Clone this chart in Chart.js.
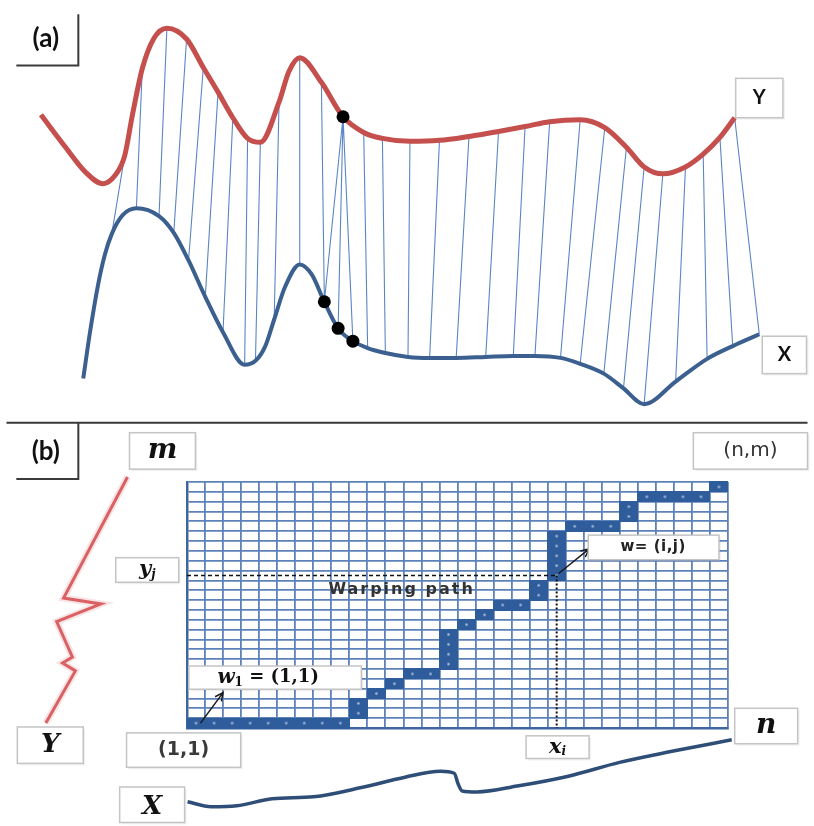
<!DOCTYPE html>
<html>
<head>
<meta charset="utf-8">
<script src="https://cdn.jsdelivr.net/npm/chart.js@4.4.0/dist/chart.umd.min.js"></script>
<style>
  html, body { margin: 0; padding: 0; background: #fff; }
  #wrap { position: relative; width: 814px; height: 826px; overflow: hidden; }
  #fig { position: absolute; left: 0; top: 0; }
  #grid { position: absolute; left: 181px; top: 476px; }
</style>
</head>
<body>
<div id="wrap">
  <canvas id="fig" width="814" height="826"></canvas>
  <canvas id="grid" width="553" height="258"></canvas>
</div>
<script>
// panel (a): series Y (red) and X (blue), [time, depth] samples
var seriesY = [[35,110],[60,143],[80,168],[98,180],[110,172],[120,152],[128,110],[138,63],[150,32],[163,22],
  [183,33],[200,62],[215,87],[230,113],[245,134],[258,138],[277,97],[287,66],[298,52],[320,77],
  [342,112],[363,128],[382,134],[410,137],[440,136],[470,132],[500,127],[527,122],[552,117],[583,115],
  [608,123],[630,143],[648,163],[667,170],[690,163],[708,150],[725,133],[740,113]];
var seriesX = [[78,378],[85,330],[93,283],[100,252],[107,231],[118,212],[132,205],[155,213],[170,230],[185,258],
  [202,295],[220,331],[242,364],[253,360],[263,345],[272,318],[283,285],[298,262],[310,272],[323,300],
  [337,327],[352,340],[367,347],[385,352],[408,356],[430,357],[457,357],[487,356],[515,355],[537,355],
  [563,357],[583,363],[607,373],[627,388],[648,404],[680,381],[712,358],[738,345],[765,333]];
// warping links: [index in Y, index in X]
var links = [[5,4],[7,6],[9,7],[10,8],[11,9],[12,10],[13,11],[14,12],[15,13],[16,15],[18,17],[19,19],
  [20,19],[20,20],[20,21],[21,22],[22,23],[23,24],[24,25],[25,26],[26,27],[27,28],[28,29],[29,30],
  [30,31],[31,32],[32,33],[33,34],[34,35],[35,36],[36,37],[37,38]];
var markedY = [20];
var markedX = [19, 20, 21];

// panel (b): sketches of the two series along the matrix edges
var sketchY = [[123,478],[58,601],[96,607],[51,625],[67,661],[57,667],[70,675],[40,728]];
var sketchX = [[184,808],[208,813],[234,812],[270,805],[312,803],[363,793],[405,783],[441,777],[455,779],
  [459,790],[463,797],[478,798],[519,792],[571,782],[623,768],[675,757],[737,745]];

// panel (b): cost matrix n x m and the warping path cells (i, j)
var nCols = 30;
var mRows = 25;
var pathI = [1,2,3,4,5,6,7,8,9,10,10,11,12,13,14,15,15,15,15,16,17,18,19,20,20,21,21,21,21,21,22,23,24,25,25,26,27,28,29,30];
var pathJ = [1,1,1,1,1,1,1,1,1,2,3,4,5,6,6,7,8,9,10,11,12,13,13,14,15,16,17,18,19,20,21,21,21,22,23,24,24,24,24,25];
var wCell = [21, 16];

function pts(arr) {
  return arr.map(function(p) { return { x: p[0], y: p[1] }; });
}

var linkData = [];
links.forEach(function(l) {
  var a = seriesY[l[0]], b = seriesX[l[1]];
  linkData.push({ x: a[0], y: a[1] }, { x: b[0], y: b[1] }, { x: b[0], y: null });
});
var dots = markedY.map(function(k) { return seriesY[k]; }).concat(markedX.map(function(k) { return seriesX[k]; }));

var serif = '"DejaVu Serif", serif';
var notes = [
  { box: [741,73,789,113], parts: [['Y', 'bold 20px Lato']] },
  { box: [768,335,813,373], parts: [['X', 'bold 20px Lato']] },
  { at: [40,33], parts: [['(a)', 'bold 26px Lato']] },
  { at: [40,452], parts: [['(b)', 'bold 26px Lato']] },
  { box: [125,433,192,470], parts: [['m', 'italic bold 28px ' + serif]] },
  { box: [698,433,814,470], parts: [['(n,m)', '20px "DejaVu Sans"']], color: '#333' },
  { box: [111,560,175,585], parts: [['y', 'italic bold 21px ' + serif], ['j', 'italic bold 12px ' + serif, 5]] },
  { box: [11,732,78,769], parts: [['Y', 'italic bold 26px ' + serif]] },
  { box: [122,738,238,773], parts: [['(1,1)', 'bold 19px "DejaVu Sans"']], color: '#3a3a3a' },
  { box: [528,741,592,764], parts: [['x', 'italic bold 21px ' + serif], ['i', 'italic bold 12px ' + serif, 5]] },
  { box: [740,713,804,749], parts: [['n', 'italic bold 28px ' + serif]] },
  { box: [115,793,181,829], parts: [['X', 'italic bold 26px ' + serif]], ty: 814 }
];

function drawParts(ctx, parts, cx, cy, color, spacing) {
  ctx.letterSpacing = spacing || '0px';
  var total = 0;
  parts.forEach(function(p) { ctx.font = p[1]; total += ctx.measureText(p[0]).width; });
  var x = cx - total / 2;
  ctx.fillStyle = color || '#111';
  ctx.textBaseline = 'middle';
  ctx.textAlign = 'left';
  parts.forEach(function(p) {
    ctx.font = p[1];
    ctx.fillText(p[0], x, cy + (p[2] || 0));
    x += ctx.measureText(p[0]).width;
  });
  ctx.letterSpacing = '0px';
}

function drawBox(ctx, x0, y0, x1, y1) {
  ctx.fillStyle = 'rgba(0,0,0,0.06)';
  ctx.fillRect(x0 + 2, y0 + 2, x1 - x0, y1 - y0);
  ctx.fillStyle = '#fff';
  ctx.fillRect(x0, y0, x1 - x0, y1 - y0);
  ctx.strokeStyle = '#c4c4c4';
  ctx.lineWidth = 1.5;
  ctx.strokeRect(x0, y0, x1 - x0, y1 - y0);
}

function arrow(ctx, x0, y0, x1, y1) {
  var a = Math.atan2(y1 - y0, x1 - x0), L = 9;
  ctx.beginPath();
  ctx.moveTo(x0, y0); ctx.lineTo(x1, y1);
  ctx.moveTo(x1 - L * Math.cos(a - 0.45), y1 - L * Math.sin(a - 0.45));
  ctx.lineTo(x1, y1);
  ctx.lineTo(x1 - L * Math.cos(a + 0.45), y1 - L * Math.sin(a + 0.45));
  ctx.stroke();
}

var figNotes = {
  id: 'figNotes',
  afterDraw: function(chart) {
    var ctx = chart.ctx, xs = chart.scales.x, ys = chart.scales.y;
    var X = function(v) { return xs.getPixelForValue(v); };
    var Y = function(v) { return ys.getPixelForValue(v); };
    ctx.save();
    ctx.strokeStyle = '#3a3a3a';
    ctx.lineWidth = 2;
    ctx.beginPath();
    ctx.moveTo(X(10), Y(60)); ctx.lineTo(X(73), Y(60)); ctx.lineTo(X(73), Y(8));
    ctx.moveTo(X(0), Y(423)); ctx.lineTo(X(814), Y(423));
    ctx.moveTo(X(10), Y(480)); ctx.lineTo(X(73), Y(480)); ctx.lineTo(X(73), Y(423));
    ctx.stroke();
    notes.forEach(function(n) {
      var cx, cy;
      if (n.box) {
        drawBox(ctx, X(n.box[0]), Y(n.box[1]), X(n.box[2]), Y(n.box[3]));
        cx = X((n.box[0] + n.box[2]) / 2);
        cy = Y(n.ty || (n.box[1] + n.box[3]) / 2);
      } else {
        cx = X(n.at[0]); cy = Y(n.at[1]);
      }
      drawParts(ctx, n.parts, cx, cy, n.color);
    });
    ctx.restore();
  }
};

new Chart(document.getElementById('fig'), {
  type: 'line',
  data: {
    datasets: [
      { data: pts(dots), showLine: false, pointRadius: 6.5, pointBackgroundColor: '#000', pointBorderWidth: 0, order: 0 },
      { data: pts(seriesY), borderColor: '#c44f4d', borderWidth: 5, pointRadius: 0, cubicInterpolationMode: 'monotone', order: 1 },
      { data: pts(seriesX), borderColor: '#3b5f8f', borderWidth: 4, pointRadius: 0, cubicInterpolationMode: 'monotone', order: 2 },
      { data: linkData, borderColor: '#5a85c4', borderWidth: 1.1, pointRadius: 0, tension: 0, order: 3 },
      { data: pts(sketchY), borderColor: 'rgba(214,90,92,0.16)', borderWidth: 7, pointRadius: 0, tension: 0, order: 5 },
      { data: pts(sketchY), borderColor: '#da6163', borderWidth: 3, pointRadius: 0, tension: 0, order: 4 },
      { data: pts(sketchX), borderColor: '#2e4e78', borderWidth: 3.5, pointRadius: 0, cubicInterpolationMode: 'monotone', order: 4 }
    ]
  },
  options: {
    responsive: false,
    animation: false,
    events: [],
    layout: { padding: 0 },
    plugins: { legend: { display: false }, tooltip: { enabled: false } },
    scales: {
      x: { type: 'linear', display: false, min: 0, max: 814 },
      y: { type: 'linear', display: false, min: 0, max: 826, reverse: true }
    }
  },
  plugins: [figNotes]
});

// one path cell, drawn by the library as a point style
var cell = document.createElement('canvas');
cell.width = 19; cell.height = 11;
var cc = cell.getContext('2d');
cc.fillStyle = '#2f5c9b';
cc.fillRect(0, 0, 19, 11);
cc.fillStyle = '#a6bddd';
cc.beginPath(); cc.arc(9.5, 5.5, 1.3, 0, Math.PI * 2); cc.fill();

var gridNotes = {
  id: 'gridNotes',
  afterDraw: function(chart) {
    var ctx = chart.ctx, xs = chart.scales.x, ys = chart.scales.y;
    var X = function(v) { return xs.getPixelForValue(v); };
    var Y = function(v) { return ys.getPixelForValue(v); };
    var wx = X(wCell[0] - 0.5), wy = Y(wCell[1] - 0.5);
    ctx.save();
    ctx.strokeStyle = '#111';
    ctx.setLineDash([4, 3]);
    ctx.lineWidth = 1.4;
    ctx.beginPath(); ctx.moveTo(X(0), wy); ctx.lineTo(wx, wy); ctx.stroke();
    ctx.setLineDash([2, 2]);
    ctx.lineWidth = 2;
    ctx.beginPath(); ctx.moveTo(wx, wy); ctx.lineTo(wx, Y(0)); ctx.stroke();
    ctx.setLineDash([]);
    ctx.lineWidth = 1.5;
    ctx.strokeStyle = '#1a1a1a';
    arrow(ctx, X(0.75), Y(0.5), X(2.0), Y(3.6));
    arrow(ctx, wx + 2, wy - 2, X(22.3), Y(18.2));

    drawBox(ctx, X(0.1), Y(6.3), X(9.67), Y(3.94));
    drawParts(ctx, [['w', 'italic bold 20px ' + serif], ['1', 'bold 12px ' + serif, 5], [' = (1,1)', 'bold 18px ' + serif]],
      X(4.5), Y(5.1), '#111');
    drawBox(ctx, X(22.25), Y(19.6), X(29.5), Y(17.1));
    drawParts(ctx, [['w= (i,j)', 'bold 15px "DejaVu Sans"']], X(25.85), Y(18.35), '#222', '0.5px');
    drawParts(ctx, [['Warping path', 'bold 16px "DejaVu Sans"']], X(11.9), Y(14.0), '#333', '2px');
    ctx.restore();
  }
};

new Chart(document.getElementById('grid'), {
  type: 'scatter',
  data: {
    datasets: [{
      data: pathI.map(function(i, k) { return { x: i - 0.5, y: pathJ[k] - 0.5 }; }),
      pointStyle: cell,
      pointRadius: 5,
      clip: false
    }]
  },
  options: {
    responsive: false,
    animation: false,
    events: [],
    layout: { padding: 2 },
    plugins: { legend: { display: false }, tooltip: { enabled: false } },
    scales: {
      x: {
        type: 'linear', min: 0, max: nCols,
        ticks: { stepSize: 1, display: false },
        grid: { color: '#5d82b9', lineWidth: 1.8, drawTicks: false },
        border: { color: '#3f659f', width: 2.5 }
      },
      y: {
        type: 'linear', min: 0, max: mRows,
        ticks: { stepSize: 1, display: false },
        grid: { color: '#5d82b9', lineWidth: 1.8, drawTicks: false },
        border: { color: '#3f659f', width: 2.5 }
      }
    }
  },
  plugins: [gridNotes]
});
</script>
</body>
</html>
